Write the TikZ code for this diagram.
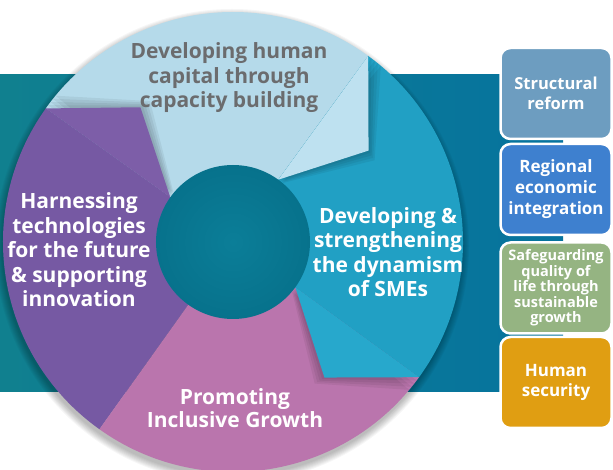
\documentclass[tikz,border=0pt]{standalone}
\usepackage{fontspec}
\setmainfont{Open Sans}
\definecolor{lblue}{HTML}{B5DAEA}
\definecolor{lblueflap}{HTML}{BEE1F0}
\definecolor{tealseg}{HTML}{21A0C4}
\definecolor{tealflap}{HTML}{27A8CC}
\definecolor{pinkseg}{HTML}{BA75AD}
\definecolor{purpleseg}{HTML}{7659A3}
\definecolor{purpleflap}{HTML}{7D5EA8}
\definecolor{holeA}{HTML}{0B7E98}
\definecolor{holeB}{HTML}{07728C}
\definecolor{bandL}{HTML}{10808F}
\definecolor{bandR}{HTML}{06739E}
\definecolor{txtgray}{HTML}{6B6C6E}
\definecolor{boxA}{HTML}{6D9DC0}
\definecolor{boxB}{HTML}{3E80CF}
\definecolor{boxC}{HTML}{95B482}
\definecolor{boxD}{HTML}{E09E12}
\begin{document}
\begin{tikzpicture}[x=1pt,y=1pt,
  seglabel/.style={inner sep=0pt, align=center, font=\fontsize{21}{24.5}\selectfont\bfseries, text=white},
  pillar/.style={draw=white, line width=2.5pt, rounded corners=10pt, minimum width=111pt, minimum height=91pt, inner sep=0pt, align=center, text=white}]
\useasboundingbox (-233,-228) rectangle (380,242);
\fill[white] (-233,-228) rectangle (380,242);
% background band
\shade[left color=bandL, right color=bandR] (-233,167) rectangle (330,-150);
% ring shadow
\foreach \k in {1,...,8} \fill[black, opacity=0.035] (-1,-4) circle[radius=229+\k];
% ring sectors
\fill[lblue] (0,0) -- (54:230) arc[start angle=54, end angle=144.5, radius=230] -- cycle;
\fill[purpleseg] (0,0) -- (144.5:230) arc[start angle=144.5, end angle=234.5, radius=230] -- cycle;
\fill[pinkseg] (0,0) -- (234.5:230) arc[start angle=234.5, end angle=324, radius=230] -- cycle;
\fill[tealseg] (0,0) -- (-36:230) arc[start angle=-36, end angle=54, radius=230] -- cycle;
% flap shadows
\begin{scope}
\clip (0,0) circle[radius=230];
\foreach \a in {-1,-2,-3,-4} {
  \fill[black, opacity=0.06, rotate=\a] (144.5:77) -- (144.5:230) -- (124.5:163.5) -- cycle;
  \fill[black, opacity=0.06, rotate=\a] (54:77) -- (54:230) -- (34:163.5) -- cycle;
  \fill[black, opacity=0.06, rotate=\a] (-36:77) -- (-36:230) -- (-56:163.5) -- cycle;
}
\end{scope}
% flaps
\fill[purpleflap] (144.5:77) -- (144.5:230) -- (124.5:163.5) -- cycle;
\fill[lblueflap] (54:77) -- (54:230) -- (34:163.5) -- cycle;
\fill[tealflap] (-36:77) -- (-36:230) -- (-56:163.5) -- cycle;
% hole
\shade[inner color=holeA, outer color=holeB] (0,0) circle[radius=77];
% segment labels
\node[seglabel, text=txtgray] (capacity) at (-4,164) {Developing human\\capital through\\capacity building};
\node[seglabel] (tech) at (-154,-8) {Harnessing\\technologies\\for the future\\\& supporting\\innovation};
\node[seglabel] (sme) at (155,-10) {Developing \&\\strengthening\\the dynamism\\of SMEs};
\node[seglabel, font=\fontsize{21}{23}\selectfont\bfseries] (inclusive) at (2,-166) {Promoting\\Inclusive Growth};
% pillars
\node[pillar, fill=boxA, font=\fontsize{16.5}{19.5}\selectfont\bfseries] (structural) at (323,148.5) {Structural\\reform};
\node[pillar, fill=boxB, font=\fontsize{17}{21}\selectfont\bfseries] (regional) at (323,52.5) {Regional\\economic\\integration};
\node[pillar, fill=boxC, font=\fontsize{14.5}{15.5}\selectfont\bfseries] (safeguard) at (323,-46) {Safeguarding\\quality of\\life through\\sustainable\\growth};
\node[pillar, fill=boxD, font=\fontsize{17}{20}\selectfont\bfseries] (security) at (323,-140.5) {Human\\security};
\end{tikzpicture}
\end{document}
